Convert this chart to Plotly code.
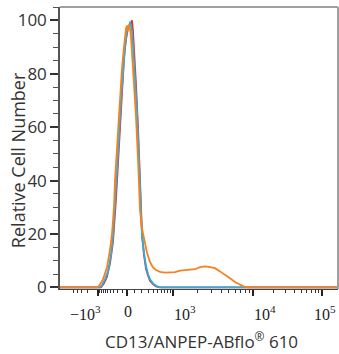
import numpy as np
import plotly.graph_objects as go

# display channel (0-278) across the biexponential axis, relative cell number
orange_x = [0, 37, 39, 43, 47, 50, 52, 54, 55, 57, 59, 60, 62, 64, 65, 66, 67, 68, 69, 70, 71, 72,
            74, 76, 78, 79, 80, 82, 85, 87, 90, 93, 96, 100, 105, 110, 115, 120, 125, 130, 135,
            140, 145, 150, 155, 160, 165, 170, 175, 180, 184, 188, 278]
orange_y = [0, 0, 0.5, 3, 7.5, 14, 20, 30, 40, 52, 63, 71, 82, 90, 95, 97, 98, 96, 98.5, 97, 94, 88,
            78, 64, 48, 38, 29, 22, 17, 13, 9.5, 7.5, 6.5, 5.8, 5.5, 5.6, 5.7, 6.3, 6.4, 6.6, 6.8,
            7.6, 7.9, 7.6, 7.2, 6.0, 4.8, 3.4, 2.0, 1.0, 0.3, 0, 0]

blue_x = [0, 40, 42, 45, 48, 51, 53, 55, 57, 59, 61, 63, 65, 67, 68, 69, 70, 71, 72, 73, 75, 77,
          79, 80, 81, 82, 84, 86, 88, 90, 93, 96, 99, 102, 278]
blue_y = [0, 0, 0.8, 3, 6, 12, 19, 30, 42, 56, 70, 82, 90, 96, 98, 97, 99.5, 98, 96, 91, 80, 66,
          48, 36, 25, 19, 13, 8, 5, 3, 1.5, 0.6, 0.1, 0, 0]

red_x = [0, 41, 44, 47, 50, 53, 56, 58, 60, 62, 64, 66, 68, 70, 71, 72, 73, 74, 76, 78, 80, 81,
         82, 84, 86, 88, 90, 93, 96, 100, 278]
red_y = [0, 0, 1.5, 4, 9, 17, 33, 47, 62, 75, 86, 93, 97, 98, 99, 100, 96, 90, 76, 60, 40, 28,
         20, 12, 7, 4.5, 2.5, 1.2, 0.4, 0, 0]

major_vals = [-1000, 0, 1000, 10000, 100000]
major_text = ['−10<sup>3</sup>', '0', '10<sup>3</sup>', '10<sup>4</sup>', '10<sup>5</sup>']
label_shift = [-13, 1, 12, 12, 3]
minor_vals = ([-v for v in range(100, 1000, 100)] + [-2000, -3000, -4000, -5000]
              + list(range(100, 1000, 100)) + list(range(2000, 10000, 1000))
              + list(range(20000, 100000, 10000)) + [200000])


def biex(v):
    # channel position of an intensity value on the displayed axis
    w = 300.0
    if v < 0:
        return 67 - 29 * np.arcsinh(-v / w) / np.arcsinh(1000 / w)
    if v <= 1000:
        return 67 + 46 * np.arcsinh(v / w) / np.arcsinh(1000 / w)
    lv = np.log10(v)
    if lv <= 5:
        return float(np.interp(lv, [3, 4, 5], [113, 193, 262]))
    return 262 + (lv - 5) * 69


minor_pos = [biex(v) for v in minor_vals if 0 <= biex(v) <= 278]

fig = go.Figure()
fig.add_trace(go.Scatter(x=red_x, y=red_y, mode='lines', line=dict(color='#e5322d', width=1.8)))
fig.add_trace(go.Scatter(x=blue_x, y=blue_y, mode='lines', line=dict(color='#27aee3', width=1.8)))
fig.add_trace(go.Scatter(x=orange_x, y=orange_y, mode='lines', line=dict(color='#f5821f', width=1.8)))

fig.update_layout(
    width=339, height=354,
    margin=dict(l=60, r=1, t=7, b=65),
    plot_bgcolor='white', paper_bgcolor='white',
    showlegend=False,
    xaxis=dict(
        range=[0, 278], showgrid=False, zeroline=False,
        showline=True, linecolor='#444', linewidth=1,
        ticks='outside', ticklen=6, tickwidth=1.5, tickcolor='#222',
        tickvals=[biex(v) for v in major_vals], showticklabels=False,
        minor=dict(tickvals=minor_pos, ticks='outside', ticklen=3, tickwidth=1, tickcolor='#333'),
        layer='below traces'
    ),
    yaxis=dict(
        range=[-0.6, 105], showgrid=False, zeroline=False,
        showline=True, linecolor='#555', linewidth=1.5,
        ticks='outside', ticklen=8, tickwidth=1.5, tickcolor='#333',
        tickvals=[0, 20, 40, 60, 80, 100],
        tickfont=dict(family='Open Sans', size=17, color='#333'),
        minor=dict(dtick=5, tick0=0, ticks='outside', ticklen=5, tickwidth=1, tickcolor='#555'),
        layer='below traces'
    ),
    shapes=[
        dict(type='line', xref='paper', yref='paper', x0=0, x1=1, y0=1, y1=1,
             line=dict(color='#a0a0a0', width=2)),
        dict(type='line', xref='paper', yref='paper', x0=1, x1=1, y0=0, y1=1,
             line=dict(color='#a0a0a0', width=2)),
    ],
)

for v, t, s in zip(major_vals, major_text, label_shift):
    fig.add_annotation(x=biex(v), y=0, xref='x', yref='paper', text=t, showarrow=False,
                       xanchor='center', yanchor='top', xshift=s, yshift=-12,
                       font=dict(family='Liberation Serif', size=16, color='#222'))

fig.add_annotation(x=0.5, y=0, xref='paper', yref='paper', text='CD13/ANPEP-ABflo<sup>®</sup> 610',
                   showarrow=False, xanchor='center', yanchor='middle', xshift=2, yshift=-51,
                   font=dict(family='Open Sans', size=17, color='#333'))
fig.add_annotation(x=0, y=0.457, xref='paper', yref='paper', text='Relative Cell Number',
                   showarrow=False, textangle=-90, xanchor='center', yanchor='middle', xshift=-42,
                   font=dict(family='Open Sans', size=18, color='#333'))

fig.write_html("out.html", config={'displayModeBar': False},
               post_script="document.body.style.margin='0';document.body.style.overflow='hidden';")
